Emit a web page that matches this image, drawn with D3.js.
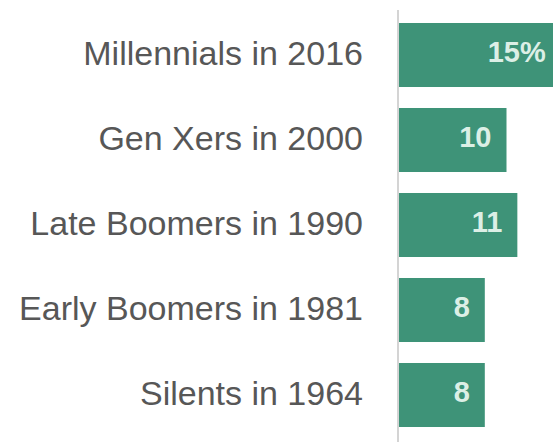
<!DOCTYPE html>
<html>
<head>
<meta charset="utf-8">
<script src="https://cdn.jsdelivr.net/npm/d3@7"></script>
<style>
  html, body { margin: 0; padding: 0; background: #ffffff; }
  svg { display: block; }
</style>
</head>
<body>
<svg id="chart" width="553" height="442"></svg>
<script>
// Generations and the share of each living with a given arrangement at the same age
const categories = [
  "Millennials in 2016",
  "Gen Xers in 2000",
  "Late Boomers in 1990",
  "Early Boomers in 1981",
  "Silents in 1964"
];
const values = [15, 10, 11, 8, 8];
const valueLabels = ["15%", "10", "11", "8", "8"];

const W = 553, H = 442;
const svg = d3.select("#chart");

const x0 = 398;
const x = d3.scaleLinear().domain([0, 10]).range([x0, x0 + 108.5]);
const y = d3.scaleBand()
  .domain(categories)
  .range([12.5, 437.5])
  .paddingInner(0.247)
  .paddingOuter(0.1235);

const barColor = "#3e9378";

// vertical baseline
svg.append("line")
  .attr("x1", x0).attr("x2", x0)
  .attr("y1", 10).attr("y2", H)
  .attr("stroke", "#d4d4d4").attr("stroke-width", 2);

// bars
svg.selectAll("rect.bar")
  .data(values)
  .join("rect")
  .attr("class", "bar")
  .attr("x", x0 + 1)
  .attr("y", (d, i) => y(categories[i]))
  .attr("width", d => x(d) - x0 - 1)
  .attr("height", y.bandwidth())
  .attr("fill", barColor);

// category labels
svg.selectAll("text.cat")
  .data(categories)
  .join("text")
  .attr("class", "cat")
  .attr("x", x0 - 35)
  .attr("y", d => y(d) + y.bandwidth() / 2 - 2)
  .attr("dy", "0.35em")
  .attr("text-anchor", "end")
  .attr("font-family", "'Liberation Sans', Arial, sans-serif")
  .attr("font-size", 34)
  .attr("fill", "#575757")
  .text(d => d);

// value labels inside the bar ends
svg.selectAll("text.val")
  .data(values)
  .join("text")
  .attr("class", "val")
  .attr("x", d => x(d) - 15)
  .attr("y", (d, i) => y(categories[i]) + y.bandwidth() / 2 - 3)
  .attr("dy", "0.35em")
  .attr("text-anchor", "end")
  .attr("font-family", "'Liberation Sans', Arial, sans-serif")
  .attr("font-weight", "bold")
  .attr("font-size", 29)
  .attr("fill", "#dcefe6")
  .text((d, i) => valueLabels[i]);
</script>
</body>
</html>
